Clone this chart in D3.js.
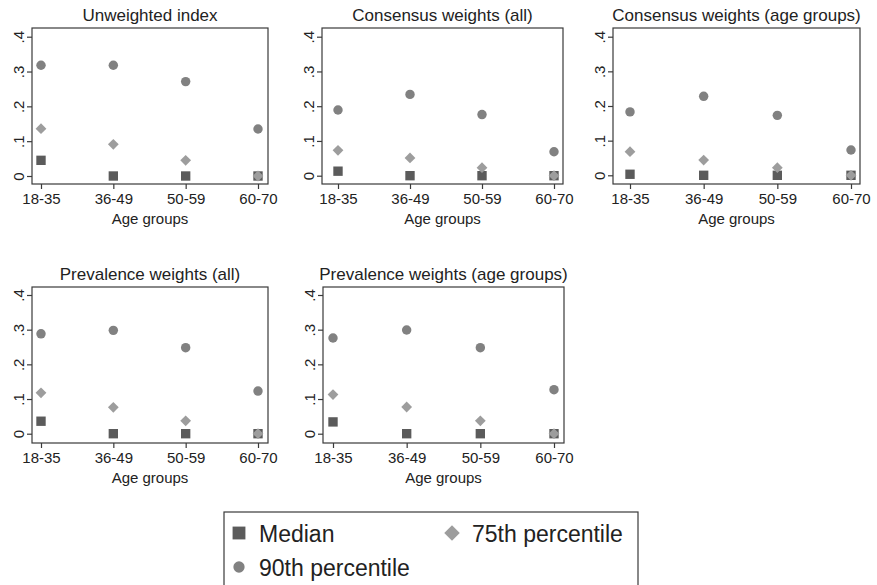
<!DOCTYPE html>
<html>
<head>
<meta charset="utf-8">
<script src="https://cdn.jsdelivr.net/npm/d3@7"></script>
<style>
  body { margin: 0; background: #fff; }
  text { font-family: "Liberation Sans", Arial, sans-serif; fill: #222; }
</style>
</head>
<body>
<svg width="877" height="585"></svg>
<script>
const ageGroups = ["18-35", "36-49", "50-59", "60-70"];
const yTicks = [0, 0.1, 0.2, 0.3, 0.4];
const yTickLabels = ["0", ".1", ".2", ".3", ".4"];
const titles = [
    "Unweighted index",
    "Consensus weights (all)",
    "Consensus weights (age groups)",
    "Prevalence weights (all)",
    "Prevalence weights (age groups)"
];

// values per panel, one entry per age group
const median = [
    [0.045, 0, 0, 0],
    [0.013, 0, 0, 0],
    [0.003, 0, 0, 0],
    [0.036, 0, 0, 0],
    [0.034, 0, 0, 0]
];
const p75 = [
    [0.136, 0.091, 0.045, 0],
    [0.073, 0.051, 0.023, 0],
    [0.068, 0.044, 0.022, 0],
    [0.118, 0.076, 0.037, 0],
    [0.113, 0.077, 0.037, 0]
];
const p90 = [
    [0.318, 0.318, 0.271, 0.135],
    [0.189, 0.234, 0.176, 0.069],
    [0.183, 0.228, 0.173, 0.073],
    [0.288, 0.298, 0.248, 0.123],
    [0.276, 0.299, 0.248, 0.127]
];

// panel frames (plot box, first/last category position, y=0 and y=.4 position)
const frames = [
    { left: 32, right: 268, top: 28, bottom: 184, x0: 41, x1: 258, y0: 176, y4: 36.7 },
    { left: 322, right: 563, top: 28, bottom: 184, x0: 338, x1: 554, y0: 175.7, y4: 36.7 },
    { left: 613, right: 860, top: 28, bottom: 184, x0: 630, x1: 851, y0: 175.3, y4: 36.7 },
    { left: 32, right: 268, top: 287, bottom: 443, x0: 41, x1: 258, y0: 433.7, y4: 295 },
    { left: 323, right: 564, top: 287, bottom: 443, x0: 333, x1: 554, y0: 433.7, y4: 295 }
];

const colMedian = "#5b5b5b", col75 = "#9d9d9d", col90 = "#818181";
const axisCol = "#3a3a3a";

const svg = d3.select("svg");

const symSquare = d3.symbol().type(d3.symbolSquare).size(88);
const symDiamond = d3.symbol().type(d3.symbolSquare).size(58); // rotated 45deg below
const symCircle = d3.symbol().type(d3.symbolCircle).size(70);

frames.forEach((f, i) => {
    const g = svg.append("g");
    const x = d3.scalePoint().domain(ageGroups).range([f.x0, f.x1]);
    const y = d3.scaleLinear().domain([0, 0.4]).range([f.y0, f.y4]);

    // title
    g.append("text")
        .attr("x", (f.left + f.right) / 2)
        .attr("y", f.top - 7)
        .attr("text-anchor", "middle")
        .style("font-size", "17px")
        .text(titles[i]);

    // plot box
    g.append("rect")
        .attr("x", f.left).attr("y", f.top)
        .attr("width", f.right - f.left).attr("height", f.bottom - f.top)
        .attr("fill", "none").attr("stroke", axisCol).attr("stroke-width", 1.2);

    // y axis
    const yAxis = g.append("g")
        .attr("transform", `translate(${f.left},0)`)
        .call(d3.axisLeft(y).tickValues(yTicks).tickSize(5).tickFormat((d, j) => yTickLabels[j]));
    yAxis.select(".domain").remove();
    yAxis.selectAll(".tick line").attr("stroke", axisCol).attr("stroke-width", 1.2);
    yAxis.selectAll(".tick text")
        .attr("x", null).attr("dy", null)
        .attr("text-anchor", "middle")
        .attr("transform", "translate(-8,0) rotate(-90)")
        .style("font-size", "15px")
        .style("font-family", "'Liberation Sans', Arial, sans-serif")
        .attr("fill", "#222");

    // x axis
    const xAxis = g.append("g")
        .attr("transform", `translate(0,${f.bottom})`)
        .call(d3.axisBottom(x).tickSize(5).tickPadding(4));
    xAxis.select(".domain").remove();
    xAxis.selectAll(".tick line").attr("stroke", axisCol).attr("stroke-width", 1.2);
    xAxis.selectAll(".tick text")
        .style("font-size", "15px")
        .style("font-family", "'Liberation Sans', Arial, sans-serif")
        .attr("fill", "#222");

    g.append("text")
        .attr("x", (f.left + f.right) / 2)
        .attr("y", f.bottom + 40)
        .attr("text-anchor", "middle")
        .style("font-size", "15px")
        .text("Age groups");

    // markers: median, 90th, then 75th on top
    g.selectAll(".med").data(median[i]).enter().append("path")
        .attr("d", symSquare)
        .attr("transform", (d, j) => `translate(${x(ageGroups[j])},${y(d)})`)
        .attr("fill", colMedian);
    g.selectAll(".p90").data(p90[i]).enter().append("path")
        .attr("d", symCircle)
        .attr("transform", (d, j) => `translate(${x(ageGroups[j])},${y(d)})`)
        .attr("fill", col90);
    g.selectAll(".p75").data(p75[i]).enter().append("path")
        .attr("d", symDiamond)
        .attr("transform", (d, j) => `translate(${x(ageGroups[j])},${y(d)}) rotate(45)`)
        .attr("fill", col75);
});

// legend
const leg = svg.append("g");
leg.append("rect")
    .attr("x", 224).attr("y", 512)
    .attr("width", 414).attr("height", 90)
    .attr("fill", "none").attr("stroke", axisCol).attr("stroke-width", 1.2);

const legendItems = [
    { label: "Median", sym: d3.symbol().type(d3.symbolSquare).size(165), rot: 0, col: colMedian, x: 239, y: 533 },
    { label: "75th percentile", sym: d3.symbol().type(d3.symbolSquare).size(120), rot: 45, col: col75, x: 452, y: 533 },
    { label: "90th percentile", sym: d3.symbol().type(d3.symbolCircle).size(100), rot: 0, col: col90, x: 239, y: 567 }
];
legendItems.forEach(it => {
    leg.append("path").attr("d", it.sym)
        .attr("transform", `translate(${it.x},${it.y}) rotate(${it.rot})`)
        .attr("fill", it.col);
    leg.append("text")
        .attr("x", it.x + 20).attr("y", it.y + 9)
        .style("font-size", "23px")
        .text(it.label);
});
</script>
</body>
</html>
